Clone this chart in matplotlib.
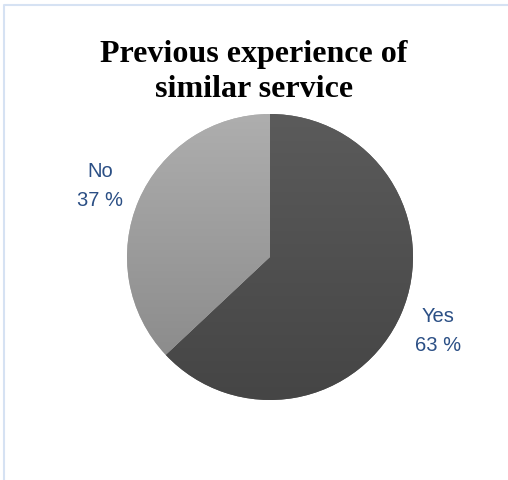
import matplotlib
matplotlib.use('Agg')
import matplotlib.pyplot as plt
import numpy as np
from matplotlib.colors import LinearSegmentedColormap
from matplotlib.lines import Line2D

labels = ['Yes', 'No']
values = [63, 37]
top_colors = ['#5b5b5b', '#aeaeae']
bottom_colors = ['#454545', '#868686']
title = 'Previous experience of\nsimilar service'

W, H = 508, 481
fig = plt.figure(figsize=(W / 100, H / 100), dpi=100)
ax = fig.add_axes([0, 0, 1, 1])

cx, cy, r = 270, H - 258, 143
wedges, _ = ax.pie(values, startangle=90, counterclock=False,
                   center=(cx, cy), radius=r, colors=top_colors)
ax.set_aspect('equal')
ax.axis('off')

# vertical gradient inside each slice
for w, c0, c1 in zip(wedges, top_colors, bottom_colors):
    cmap = LinearSegmentedColormap.from_list('g', [c1, c0])
    grad = np.linspace(0, 1, 256).reshape(-1, 1)
    im = ax.imshow(grad, cmap=cmap, origin='lower', aspect='auto',
                   extent=[cx - r, cx + r, cy - r, cy + r], zorder=2)
    im.set_clip_path(w)
ax.set_xlim(0, W)
ax.set_ylim(0, H)

# slice labels
ax.text(100, H - 186, 'No\n37 %', ha='center', va='center', fontsize=14.5,
        family='Liberation Sans', color='#2b4f85', linespacing=1.7)
ax.text(438, H - 331, 'Yes\n63 %', ha='center', va='center', fontsize=14.5,
        family='Liberation Sans', color='#2b4f85', linespacing=1.7)

ax.text(254, H - 72, title, ha='center', va='center', fontsize=23,
        family='Liberation Serif', fontweight='bold', color='black',
        linespacing=1.3)

# light chart border (top and left edges visible)
fig.lines.append(Line2D([4, 4, W + 5], [-5, H - 6, H - 6], transform=None,
                        color='#d6e2f3', linewidth=1.5))

fig.savefig('out.png', dpi=100)
